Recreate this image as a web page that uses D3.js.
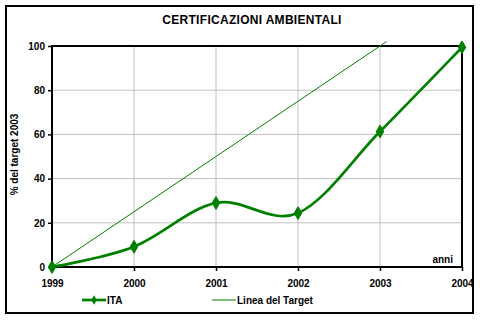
<!DOCTYPE html>
<html><head><meta charset="utf-8">
<script src="https://cdn.jsdelivr.net/npm/d3@7"></script>
<style>body{margin:0;background:#fff}svg{display:block}text{font-family:"Liberation Sans",Arial,sans-serif;font-weight:bold}</style>
</head><body>
<script>
const years = [1999, 2000, 2001, 2002, 2003, 2004];
const itaValues = [0, 9.2, 29, 24.4, 61.3, 99.4];
const targetYears = [1999, 2003.08];
const targetValues = [0, 102];
const yTicks = [0, 20, 40, 60, 80, 100];
const title = "CERTIFICAZIONI AMBIENTALI";
const yTitle = "% del target 2003";
const xTitle = "anni";
const seriesNames = ["ITA", "Linea del Target"];

const W = 480, H = 322, green = "#008000";
const svg = d3.select("body").append("svg").attr("width", W).attr("height", H);
svg.append("rect").attr("x", 6).attr("y", 6).attr("width", 467).attr("height", 307)
  .attr("fill", "#fff").attr("stroke", "#000").attr("stroke-width", 2);

const x = d3.scaleLinear().domain([1999, 2004]).range([52, 462]);
const y = d3.scaleLinear().domain([0, 100]).range([267, 46]);

svg.append("text").attr("x", 252).attr("y", 24).attr("text-anchor", "middle")
  .attr("font-size", 12).attr("letter-spacing", 0.3).text(title);

// grid
svg.append("g").selectAll("line").data(yTicks.slice(1, -1)).join("line")
  .attr("x1", x(1999)).attr("x2", x(2004)).attr("y1", d => y(d)).attr("y2", d => y(d))
  .attr("stroke", "#c0c0c0");
svg.append("g").selectAll("line").data(years.slice(1, -1)).join("line")
  .attr("x1", d => x(d)).attr("x2", d => x(d)).attr("y1", y(0)).attr("y2", y(100))
  .attr("stroke", "#c0c0c0");

// plot frame
svg.append("rect").attr("x", x(1999)).attr("y", y(100)).attr("width", x(2004) - x(1999))
  .attr("height", y(0) - y(100)).attr("fill", "none").attr("stroke", "#000").attr("stroke-width", 2);

// axes
const yAxis = svg.append("g").attr("transform", `translate(${x(1999)},0)`)
  .call(d3.axisLeft(y).tickValues(yTicks).tickSize(4).tickPadding(3));
const xAxis = svg.append("g").attr("transform", `translate(0,${y(0)})`)
  .call(d3.axisBottom(x).tickValues(years).tickFormat(d3.format("d")).tickSize(4).tickPadding(9));
[yAxis, xAxis].forEach(g => {
  g.select(".domain").remove();
  g.selectAll("line").attr("stroke", "#000").attr("stroke-width", 1.5);
  g.selectAll("text").attr("font-size", 10).attr("fill", "#000")
    .attr("font-family", '"Liberation Sans",Arial,sans-serif').attr("font-weight", "bold");
});

svg.append("text").attr("transform", `translate(18,${(y(0)+y(100))/2 - 2}) rotate(-90)`)
  .attr("text-anchor", "middle").attr("font-size", 10).text(yTitle);
svg.append("text").attr("x", 453).attr("y", 263).attr("text-anchor", "end")
  .attr("font-size", 10).text(xTitle);

// target line
const tline = d3.line().x((d, i) => x(targetYears[i])).y(d => y(d));
svg.append("path").attr("d", tline(targetValues)).attr("fill", "none")
  .attr("stroke", green).attr("stroke-width", 1);

// ITA
const iline = d3.line().x((d, i) => x(years[i])).y(d => y(d)).curve(d3.curveCardinal.tension(0));
svg.append("path").attr("d", iline(itaValues)).attr("fill", "none")
  .attr("stroke", green).attr("stroke-width", 2.7).attr("stroke-linejoin", "round");
svg.append("g").selectAll("path").data(itaValues).join("path")
  .attr("transform", (d, i) => `translate(${x(years[i])},${y(d)})`)
  .attr("d", d3.symbol(d3.symbolDiamond, 40)).attr("fill", green)
  .attr("stroke", green).attr("stroke-width", 1.5).attr("stroke-linejoin", "round");

// legend
const ly = 300;
svg.append("line").attr("x1", 82).attr("x2", 106).attr("y1", ly).attr("y2", ly)
  .attr("stroke", green).attr("stroke-width", 2.7);
svg.append("path").attr("transform", `translate(94,${ly})`).attr("d", d3.symbol(d3.symbolDiamond, 25)).attr("fill", green);
svg.append("text").attr("x", 107).attr("y", ly + 4).attr("font-size", 10).text(seriesNames[0]);
svg.append("line").attr("x1", 212).attr("x2", 236).attr("y1", ly).attr("y2", ly)
  .attr("stroke", green).attr("stroke-width", 1);
svg.append("text").attr("x", 237).attr("y", ly + 4).attr("font-size", 10).text(seriesNames[1]);
</script>
</body></html>
